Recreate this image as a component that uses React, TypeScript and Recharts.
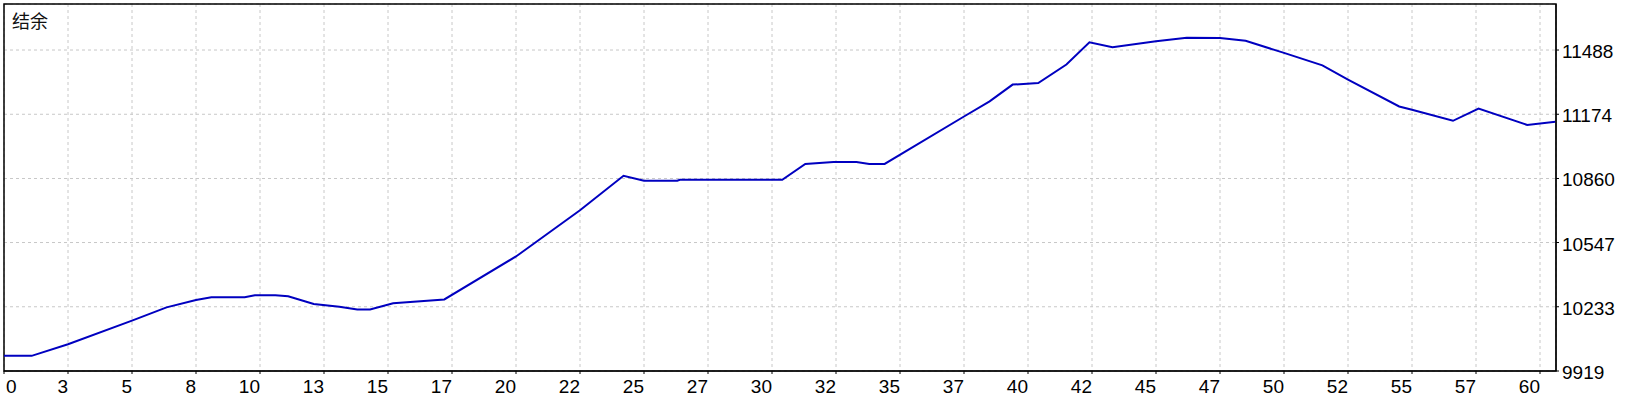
import React from 'react';
import { LineChart, Line, XAxis, YAxis, CartesianGrid, ReferenceArea } from 'recharts';

const tradeX = [0, 1.08, 2.5, 5.0, 6.35, 7.5, 8.1, 9.4, 9.8, 10.6, 11.1, 12.1, 13.1, 13.8, 14.3, 15.2, 17.2, 20.0, 22.5, 24.2, 25.0, 26.3, 26.4, 30.4, 31.3, 32.4, 33.3, 33.8, 34.4, 37.5, 38.5, 39.4, 40.4, 41.5, 42.4, 43.3, 45.0, 46.2, 47.5, 48.5, 50.0, 51.5, 52.5, 54.5, 55.0, 56.6, 57.6, 59.5, 60.6];
const balance = [9993, 9993, 10050, 10165, 10230, 10266, 10279, 10279, 10289, 10289, 10284, 10247, 10233, 10220, 10220, 10250, 10269, 10479, 10705, 10873, 10849, 10849, 10854, 10854, 10931, 10941, 10941, 10931, 10931, 11163, 11237, 11319, 11327, 11417, 11526, 11502, 11531, 11548, 11547, 11533, 11474, 11413, 11343, 11212, 11196, 11142, 11202, 11122, 11137];

const xTickValues = [0, 2.5, 5, 7.5, 10, 12.5, 15, 17.5, 20, 22.5, 25, 27.5, 30, 32.5, 35, 37.5, 40, 42.5, 45, 47.5, 50, 52.5, 55, 57.5, 60];
const xTickLabels = ['0', '3', '5', '8', '10', '13', '15', '17', '20', '22', '25', '27', '30', '32', '35', '37', '40', '42', '45', '47', '50', '52', '55', '57', '60'];
const yTickValues = [9919, 10233, 10547, 10860, 11174, 11488];
const xDomain = [0, 60.625];
const yDomain = [9919, 11713];
const title = '结余';

const data = tradeX.map((x, i) => ({ x, balance: balance[i] }));

const FONT = '"Liberation Sans", Arial, sans-serif';

const XTick = (props: any) => {
  const { x, y, payload } = props;
  const idx = xTickValues.indexOf(payload.value);
  const first = idx === 0;
  return (
    <text x={first ? x + 2 : x} y={y} dy={17} textAnchor={first ? 'start' : 'end'} fontSize={19} fontFamily={FONT} fill="#000">
      {idx >= 0 ? xTickLabels[idx] : ''}
    </text>
  );
};

const YTick = (props: any) => {
  const { x, y, payload } = props;
  return (
    <text x={x} y={y} dy={8} textAnchor="start" fontSize={19} fontFamily={FONT} fill="#000">
      {payload.value}
    </text>
  );
};

export default function App() {
  return (
    <div style={{ position: 'absolute', left: 0, top: 0, width: 1640, height: 400, background: '#fff' }}>
      <LineChart width={1640} height={400} data={data} margin={{ top: 4, right: 0, bottom: 0, left: 4 }}>
        <CartesianGrid stroke="#c8c8c8" strokeDasharray="3 3" />
        <XAxis
          dataKey="x"
          type="number"
          domain={xDomain}
          ticks={xTickValues}
          allowDataOverflow
          height={29}
          stroke="#000"
          tickSize={3}
          tickMargin={2}
          tick={<XTick />}
          interval={0}
        />
        <YAxis
          orientation="right"
          type="number"
          domain={yDomain}
          ticks={yTickValues}
          allowDataOverflow
          width={84}
          stroke="#000"
          tickSize={3}
          tickMargin={3}
          tick={<YTick />}
          interval={0}
        />
        <ReferenceArea
          x1={xDomain[0]}
          x2={xDomain[1]}
          y1={yDomain[0]}
          y2={yDomain[1]}
          fill="none"
          fillOpacity={0}
          stroke="#000"
          strokeWidth={1.5}
          ifOverflow="extendDomain"
        />
        <Line
          type="linear"
          dataKey="balance"
          stroke="#0000C0"
          strokeWidth={2}
          dot={false}
          activeDot={false}
          isAnimationActive={false}
        />
      </LineChart>
      <div
        style={{
          position: 'absolute',
          left: 12,
          top: 9,
          fontSize: 18,
          lineHeight: '22px',
          fontFamily: '"Noto Sans CJK SC", sans-serif',
          color: '#111',
        }}
      >
        {title}
      </div>
    </div>
  );
}
